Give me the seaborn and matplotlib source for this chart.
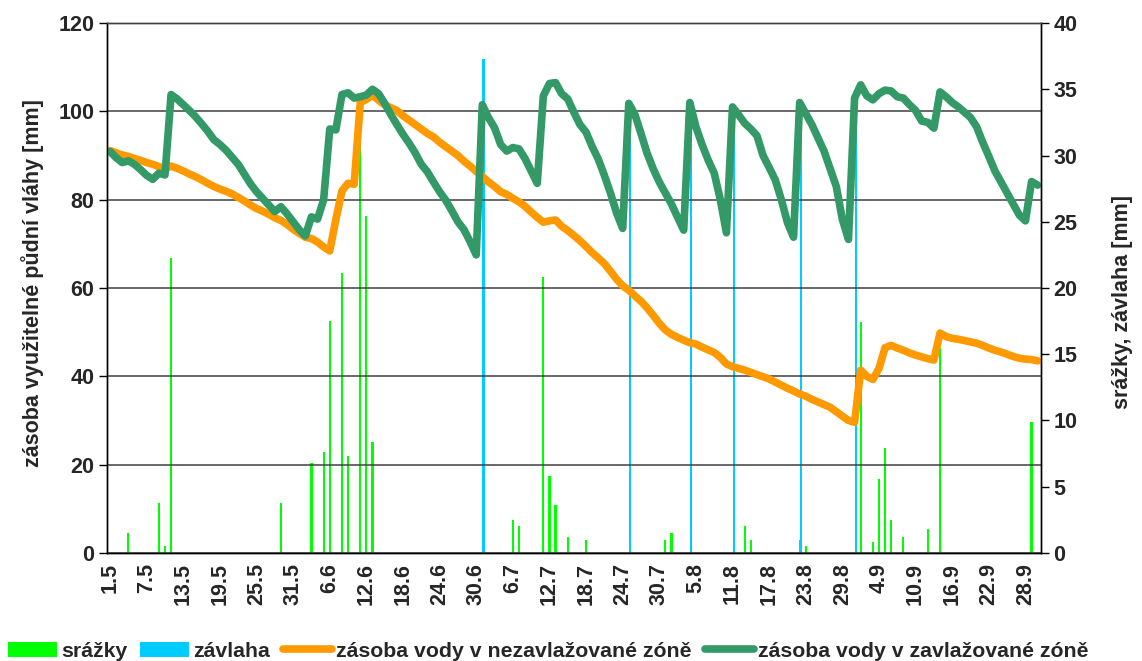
import numpy as np
import pandas as pd
import matplotlib.pyplot as plt
import seaborn as sns
from matplotlib.patches import Patch
from matplotlib.lines import Line2D

# kategorie - dny sezony 1.5. - 30.9.
dny = pd.date_range("2013-05-01", "2013-09-30", freq="D")
popisky = ["1.5", "7.5", "13.5", "19.5", "25.5", "31.5", "6.6", "12.6", "18.6",
           "24.6", "30.6", "6.7", "12.7", "18.7", "24.7", "30.7", "5.8", "11.8",
           "17.8", "23.8", "29.8", "4.9", "10.9", "16.9", "22.9", "28.9"]

# zasoba vody v nezavlazovane zone [mm]
zasoba_nezavl = [
    91.1, 90.6, 90.1, 89.8, 89.3, 88.9, 88.4, 88.0, 87.5, 87.0,
    87.6, 87.1, 86.5, 85.8, 85.2, 84.5, 83.7, 83.0, 82.4, 81.9,
    81.3, 80.5, 79.7, 78.8, 78.0, 77.4, 76.7, 75.9, 75.3, 74.4,
    73.3, 72.4, 71.5, 71.2, 70.4, 69.3, 68.4, 75.5, 82.0, 83.7,
    83.5, 102.0, 102.7, 103.7, 102.5, 101.5, 100.8, 100.2, 99.0, 98.0,
    97.0, 96.0, 95.0, 94.2, 93.0, 92.0, 91.0, 90.0, 88.7, 87.6,
    86.4, 85.3, 84.0, 83.0, 81.8, 81.2, 80.3, 79.5, 78.5, 77.2,
    76.0, 74.9, 75.2, 75.4, 74.0, 73.0, 71.9, 70.7, 69.4, 68.0,
    66.8, 65.5, 63.8, 62.0, 60.5, 59.5, 58.2, 57.0, 55.5, 53.8,
    52.0, 50.5, 49.5, 48.8, 48.2, 47.6, 47.3, 46.6, 46.0, 45.4,
    44.3, 42.8, 42.2, 41.8, 41.4, 40.9, 40.4, 39.9, 39.4, 38.7,
    38.0, 37.3, 36.7, 36.0, 35.5, 34.8, 34.2, 33.6, 33.0, 32.0,
    31.0, 30.0, 29.6, 41.4, 40.0, 39.3, 41.8, 46.5, 47.0, 46.4,
    45.9, 45.3, 44.8, 44.4, 44.0, 43.7, 49.8, 49.0, 48.6, 48.4,
    48.1, 47.8, 47.5, 47.0, 46.4, 45.9, 45.5, 45.0, 44.5, 44.1,
    43.9, 43.8, 43.5]

# zasoba vody v zavlazovane zone [mm]
zasoba_zavl = [
    90.9, 89.5, 88.4, 88.8, 88.0, 86.8, 85.5, 84.6, 86.0, 85.6,
    103.8, 102.8, 101.5, 100.2, 98.8, 97.2, 95.5, 93.6, 92.5, 91.2,
    89.6, 88.0, 85.8, 83.6, 81.8, 80.3, 78.8, 77.3, 78.4, 76.8,
    75.0, 73.2, 71.8, 76.1, 75.6, 80.0, 96.0, 95.8, 103.8, 104.2,
    103.0, 103.3, 103.7, 105.0, 104.0, 101.8, 99.3, 97.0, 94.8, 92.8,
    90.6, 88.0, 86.3, 84.0, 81.8, 79.9, 77.5, 75.0, 73.2, 70.5,
    67.5, 101.5, 98.6, 96.3, 92.5, 91.0, 91.8, 91.5, 89.3, 86.5,
    83.7, 103.5, 106.3, 106.5, 104.0, 102.8, 99.8, 97.0, 95.3, 92.0,
    89.2, 85.5, 81.5, 77.0, 73.5, 101.8, 99.3, 95.0, 90.5, 87.0,
    84.0, 81.5, 79.0, 76.0, 73.1, 102.0, 96.5, 92.5, 89.0, 86.0,
    80.0, 72.5, 101.0, 99.2, 97.3, 96.0, 94.5, 90.0, 87.3, 84.5,
    80.0, 74.8, 71.5, 102.0, 99.5, 97.0, 94.0, 91.0, 87.0, 83.0,
    75.5, 71.0, 103.0, 106.0, 103.5, 102.6, 104.0, 104.8, 104.6, 103.3,
    103.0, 101.5, 100.2, 97.8, 97.5, 96.2, 104.4, 103.3, 102.0, 101.0,
    99.8, 98.6, 96.5, 93.0, 89.8, 86.5, 84.0, 81.5, 79.0, 76.5,
    75.2, 84.1, 83.3]

# srazky [mm]
srazky_datum = ["4.5", "9.5", "10.5", "11.5", "29.5", "3.6", "5.6", "6.6", "8.6",
                "9.6", "11.6", "12.6", "13.6", "6.7", "7.7", "11.7", "12.7", "13.7",
                "15.7", "18.7", "31.7", "1.8", "13.8", "14.8", "22.8", "23.8",
                "1.9", "3.9", "4.9", "5.9", "6.9", "8.9", "12.9", "14.9", "29.9"]
srazky_mm = [1.5, 3.8, 0.5, 22.3, 3.8, 6.8, 7.6, 17.5, 21.1,
             7.3, 31.0, 25.4, 8.4, 2.5, 2.0, 20.8, 5.8, 3.6,
             1.2, 1.0, 1.0, 1.5, 2.0, 1.0, 1.0, 0.5,
             17.4, 0.8, 5.6, 7.9, 2.5, 1.2, 1.8, 15.5, 9.9]

# zavlaha [mm]
zavlaha_datum = ["1.7", "25.7", "4.8", "11.8", "22.8", "31.8"]
zavlaha_mm = [37.3, 33.5, 33.5, 33.5, 33.5, 33.5]

klic = [f"{d.day}.{d.month}" for d in dny]
poz = np.arange(len(dny))
srazky_x = np.array([klic.index(s) for s in srazky_datum])
zavlaha_x = np.array([klic.index(s) for s in zavlaha_datum])

sns.set_style("white")
plt.rcParams['font.family'] = ['Liberation Sans', 'DejaVu Sans']
plt.rcParams['font.weight'] = 'bold'

fs = 15.5
fs_leg = 15.3
c_orange = '#FF9900'
c_green = '#339966'
c_rain = '#00FF00'
c_irr = '#00CCFF'
c_grid = '#404040'

fig = plt.figure(figsize=(11.42, 6.61), dpi=100)
ax = fig.add_axes([0.0937, 0.1634, 0.8176, 0.8018])
ax2 = ax.twinx()

# sloupce na prave ose, cary nad nimi na leve ose
ax2.set_zorder(1)
ax.set_zorder(2)
ax.patch.set_visible(False)

ax2.bar(srazky_x, srazky_mm, width=0.35, color=c_rain, linewidth=0)
ax2.bar(zavlaha_x + 0.2, zavlaha_mm, width=0.35, color=c_irr, linewidth=0)

sns.lineplot(x=poz, y=zasoba_nezavl, ax=ax, color=c_orange, linewidth=5.5,
             estimator=None, solid_capstyle='round', solid_joinstyle='round')
sns.lineplot(x=poz, y=zasoba_zavl, ax=ax, color=c_green, linewidth=5.5,
             estimator=None, solid_capstyle='round', solid_joinstyle='round')

ax.set_xlim(-0.5, len(dny) - 0.5)
ax.set_ylim(0, 120)
ax.set_yticks(range(0, 121, 20))
ax2.set_ylim(0, 40)
ax2.set_yticks(range(0, 41, 5))

ax.set_xticks(range(0, len(dny), 6))
ax.set_xticklabels(popisky, rotation=90, fontsize=fs, fontweight='bold')
ax.set_xticks(np.arange(-0.5, len(dny), 1), minor=True)
ax.tick_params(axis='x', which='major', length=0, pad=7)
ax.tick_params(axis='x', which='minor', length=6, width=1, color='black', direction='out')
ax.tick_params(axis='y', length=6, width=1, color='black', direction='out',
               labelsize=fs, pad=3)
ax2.tick_params(axis='y', length=6, width=1, color='black', direction='out',
                labelsize=fs, pad=3)
for t in ax.get_yticklabels() + ax2.get_yticklabels():
    t.set_fontweight('bold')

ax.yaxis.grid(True, color=c_grid, linewidth=1.1)
ax.xaxis.grid(False)
ax2.grid(False)

for a in (ax, ax2):
    for s in a.spines.values():
        s.set_color('black')
        s.set_linewidth(1)
    a.spines['top'].set_color(c_grid)

ax.set_xlabel('')
ax.set_ylabel('zásoba využitelné půdní vláhy [mm]', fontsize=fs, fontweight='bold')
ax.yaxis.set_label_coords(-0.0675, 0.51)
ax2.set_ylabel('srážky, závlaha [mm]', fontsize=fs, fontweight='bold')
ax2.yaxis.set_label_coords(1.0765, 0.474)

handles = [
    Patch(facecolor=c_rain, edgecolor='none'),
    Patch(facecolor=c_irr, edgecolor='none'),
    Line2D([], [], color=c_orange, linewidth=5.5, solid_capstyle='round'),
    Line2D([], [], color=c_green, linewidth=5.5, solid_capstyle='round'),
]
labels = ['srážky', 'závlaha', 'zásoba vody v nezavlažované zóně',
          'zásoba vody v zavlažované zóně']
fig.legend(handles, labels, loc='center left', bbox_to_anchor=(0.007, 0.0151), ncol=4,
           frameon=False, prop={'size': fs_leg, 'weight': 'bold'}, handlelength=2.3,
           handleheight=0.7, handletextpad=0.19, columnspacing=0.62,
           borderaxespad=0, borderpad=0)

fig.savefig('out.png', dpi=100)
